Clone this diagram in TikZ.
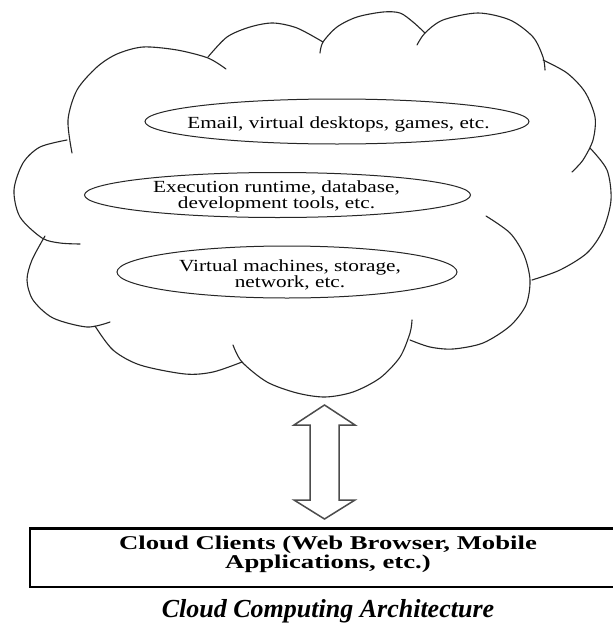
\documentclass[tikz,border=0pt]{standalone}
\usepackage{fontspec}
\setmainfont{Liberation Serif}
\newfontfamily\elfont[FakeStretch=1.25]{Liberation Serif}
\newfontfamily\bxfont[FakeStretch=1.37]{Liberation Serif}
\newfontfamily\capfont{Liberation Serif}
\usetikzlibrary{shapes.geometric,calc}
\tikzset{
  cloudline/.style={line width=1.1pt, draw=black!85, line cap=round},
  layer/.style={ellipse, draw=black!85, line width=1pt, inner sep=0pt},
  layertext/.style={align=center, inner sep=0pt, font=\elfont\fontsize{17}{16}\selectfont},
  clientbox/.style={draw=black, line width=2.3pt, inner sep=0pt, minimum width=596pt, minimum height=58.5pt},
  clienttext/.style={align=center, inner sep=0pt, font=\bxfont\bfseries\fontsize{19.5}{15}\selectfont},
  captext/.style={inner sep=0pt, font=\capfont\bfseries\itshape\fontsize{26}{28}\selectfont},
  bigarrow/.style={draw=black!70, line width=1.5pt, line join=miter, fill=white}
}
\begin{document}
\begin{tikzpicture}[x=1pt,y=-1pt]
\useasboundingbox (0,0) rectangle (613,624);
\clip (0,0) rectangle (613,624);
\fill[white] (0,0) rectangle (613,624);
% cloud outline made of bumps
\draw[cloudline] plot[smooth] coordinates {(72,153) (68,120) (77,90) (97,67) (117,54) (143,47) (177,50) (208,58) (226,69)};
\draw[cloudline] plot[smooth] coordinates {(208,57) (227,37) (250,27) (273,23) (297,28) (323,42)};
\draw[cloudline] plot[smooth] coordinates {(320,53) (323,42) (337,27) (357,17) (383,12) (400,13) (413,22) (425,33)};
\draw[cloudline] plot[smooth] coordinates {(417,45) (425,33) (443,20) (478,13) (510,20) (533,37) (543,57) (545,70)};
\draw[cloudline] plot[smooth] coordinates {(543,60) (567,73) (585,92) (595,117) (593,140) (583,160) (572,172)};
\draw[cloudline] plot[smooth] coordinates {(590,148) (607,170) (611,200) (603,230) (587,253) (560,270) (532,280)};
\draw[cloudline] plot[smooth] coordinates {(486,216) (510,233) (524,255) (530,280) (526,305) (510,326) (483,343) (453,349) (430,347) (410,340)};
\draw[cloudline] plot[smooth] coordinates {(412,320) (410,333) (400,357) (380,378) (353,392) (325,397) (297,393) (267,382) (242,362) (233,345)};
\draw[cloudline] plot[smooth] coordinates {(95,326) (113,350) (140,365) (185,374) (213,372) (242,362)};
\draw[cloudline] plot[smooth] coordinates {(45,236) (32,260) (27,280) (33,300) (53,318) (87,327) (110,322)};
\draw[cloudline] plot[smooth] coordinates {(67,140) (40,147) (23,163) (14,190) (20,217) (42,238) (60,243) (80,244)};
% layers
\node[layer, minimum width=384pt, minimum height=45pt] (e1) at (337,121.5) {};
\node[layer, minimum width=386pt, minimum height=45pt] (e2) at (277.5,195) {};
\node[layer, minimum width=340pt, minimum height=52pt] (e3) at (287,272) {};
\node[layertext, anchor=base] (t1) at (338.5,128) {Email, virtual desktops, games, etc.};
\node[layertext] (t2) at (276.5,196) {Execution runtime, database,\\development tools, etc.};
\node[layertext] (t3) at (290,274.5) {Virtual machines, storage,\\network, etc.};
% clients box
\node[clientbox] (clients) at (328,557.75) {};
\node[clienttext] (ctext) at (328,554) {Cloud Clients (Web Browser, Mobile\\Applications, etc.)};
% double arrow between cloud and clients
\coordinate (atop) at (324.5,405);
\coordinate (abot) at (324.5,519);
\draw[bigarrow] (atop) -- ($(atop)+(30.5,20)$) -- ($(atop)+(14.5,20)$) -- ($(abot)+(14.5,-19)$) -- ($(abot)+(30.5,-19)$) -- (abot) -- ($(abot)+(-30.5,-19)$) -- ($(abot)+(-14.5,-19)$) -- ($(atop)+(-14.5,20)$) -- ($(atop)+(-30.5,20)$) -- cycle;
% caption
\node[captext, anchor=base] (caption) at (328,617.5) {Cloud Computing Architecture};
\end{tikzpicture}
\end{document}
